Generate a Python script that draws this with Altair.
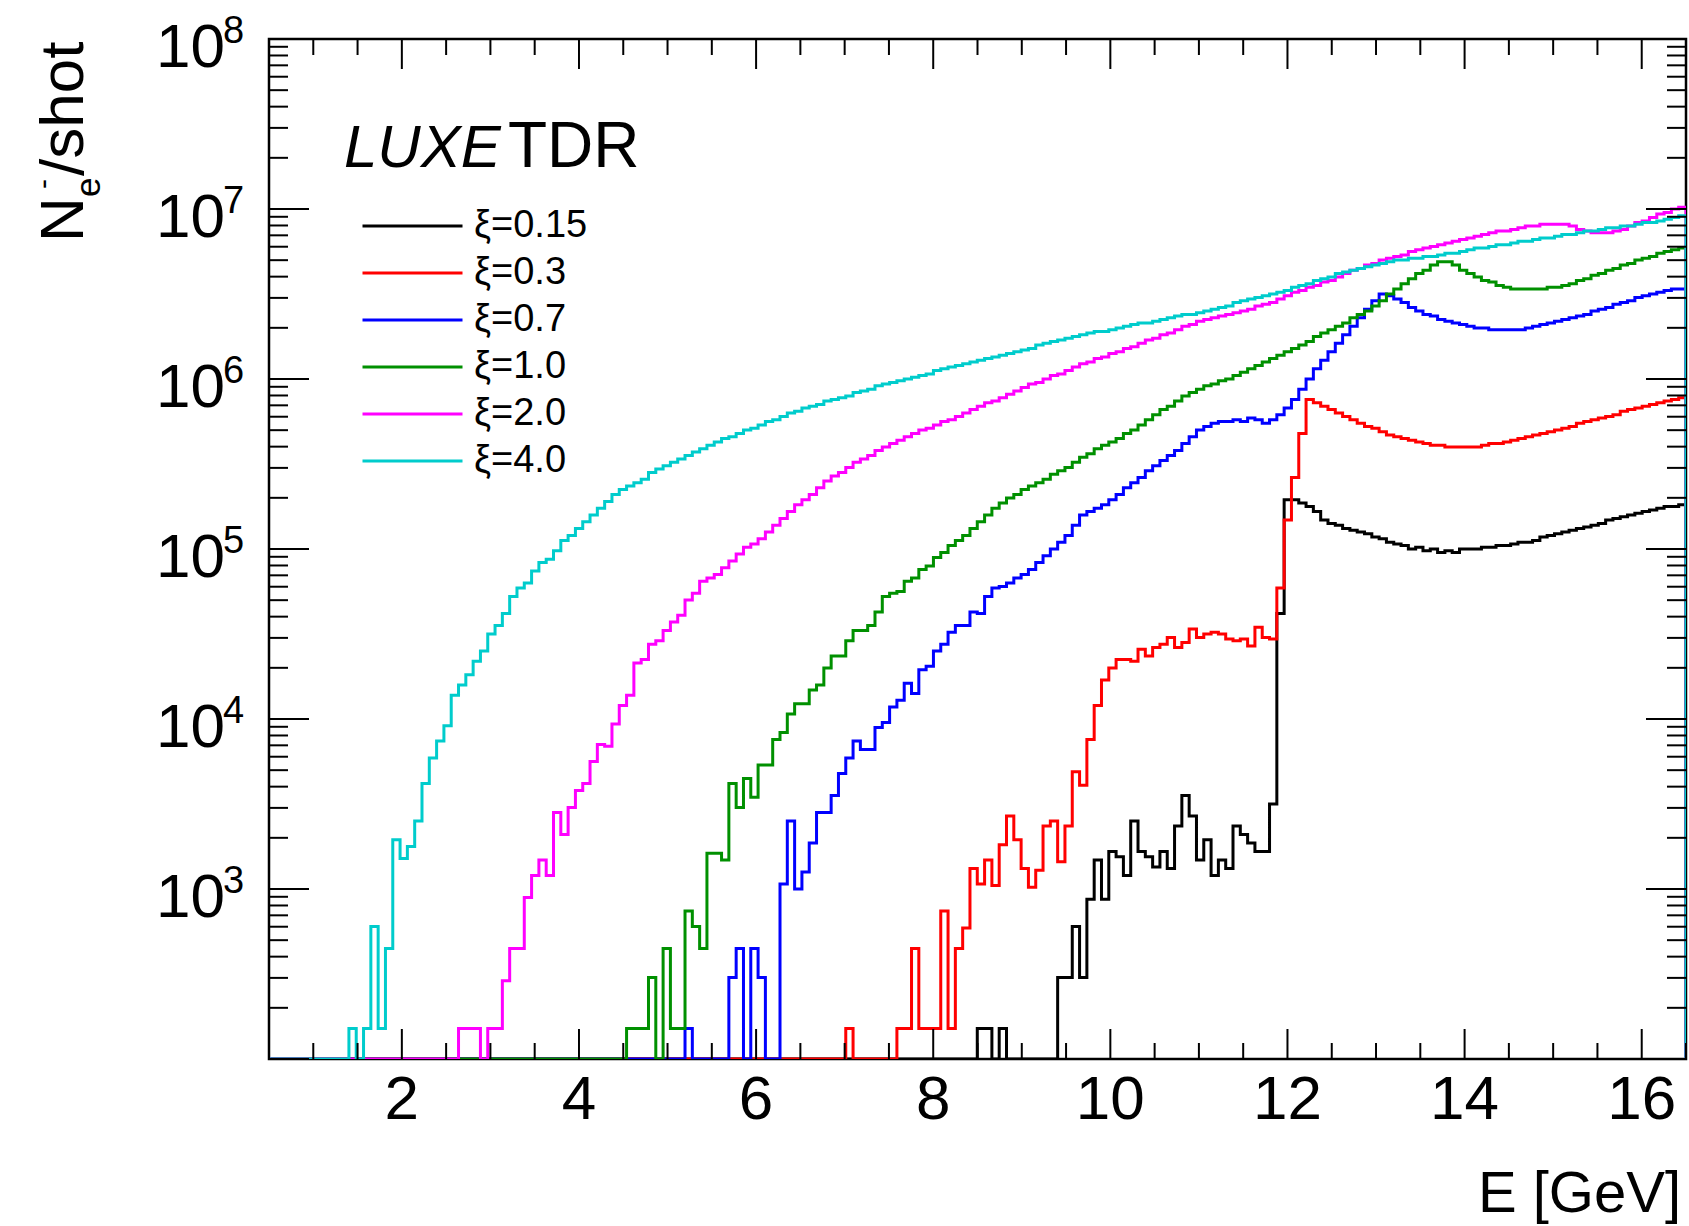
import altair as alt
import pandas as pd

# ---------------- data (log10 of N per bin; 0 = empty bin) ----------------
BIN_WIDTH = 0.0825          # GeV, 200 bins from 0 to 16.5 GeV
X_MIN, X_MAX = 0.5, 16.5
Y_MIN, Y_MAX = 1e2, 1e8

series_names = ["ξ=0.15", "ξ=0.3", "ξ=0.7", "ξ=1.0", "ξ=2.0", "ξ=4.0"]
series_colors = ["#000000", "#ff0000", "#0000ff", "#009000", "#ff00ff", "#00cccc"]
first_bin = [103, 85, 63, 55, 32, 17]

log_xi015 = [
    2.18, 2.18, 0, 2.18,
    0, 0, 0, 0, 0, 0, 0,
    2.48, 2.48, 2.78, 2.48, 2.94, 3.17,
    2.94, 3.22, 3.19, 3.08, 3.40, 3.22, 3.19, 3.13, 3.22, 3.12,
    3.37, 3.55, 3.43, 3.17, 3.29, 3.08, 3.17, 3.12, 3.37, 3.32,
    3.27, 3.22, 3.22, 3.50,
    4.62, 5.29, 5.29, 5.27, 5.25, 5.22,
    5.17, 5.15, 5.14, 5.12, 5.11, 5.10, 5.09, 5.07, 5.06, 5.04,
    5.03, 5.02, 5.00, 5.01, 4.99, 5.00, 4.98, 4.99, 4.98, 5.00,
    5.00, 5.00, 5.01, 5.01, 5.02, 5.02, 5.03, 5.04, 5.04, 5.05,
    5.07, 5.08, 5.09, 5.10, 5.11, 5.12, 5.13, 5.14, 5.15, 5.17,
    5.18, 5.19, 5.20, 5.21, 5.22, 5.23, 5.24, 5.25, 5.25, 5.26,
]
log_xi03 = [
    2.18, 0, 0, 0, 0, 0, 0, 2.18, 2.18, 2.65, 2.18, 2.18, 2.18, 2.87, 2.18,
    2.65, 2.77, 3.12, 3.03, 3.17, 3.02, 3.26, 3.43, 3.29, 3.12,
    3.01, 3.11, 3.37, 3.40, 3.16, 3.37, 3.69, 3.61, 3.88, 4.08,
    4.23, 4.30, 4.35, 4.35, 4.34, 4.41, 4.37, 4.42, 4.44, 4.48,
    4.42, 4.45, 4.53, 4.48, 4.50, 4.51, 4.50, 4.47, 4.46, 4.47,
    4.43, 4.54, 4.48, 4.47, 4.77, 5.17, 5.42, 5.68, 5.88, 5.86,
    5.84, 5.82, 5.80, 5.78, 5.76, 5.74, 5.72, 5.71, 5.69, 5.67,
    5.66, 5.65, 5.64, 5.63, 5.62, 5.61, 5.61, 5.60, 5.60, 5.60,
    5.60, 5.60, 5.61, 5.62, 5.62, 5.63, 5.64, 5.65, 5.66, 5.67,
    5.68, 5.69, 5.70, 5.71, 5.72, 5.74, 5.75, 5.76, 5.77, 5.78,
    5.79, 5.81, 5.82, 5.83, 5.84, 5.85, 5.86, 5.87, 5.88, 5.89,
]
log_xi07 = [
    2.18, 0, 0, 0, 0, 0, 2.48, 2.65, 0, 2.65, 2.48, 0, 0,
    3.03, 3.40, 3.00, 3.10, 3.27, 3.45, 3.45, 3.55, 3.68, 3.77,
    3.87, 3.82, 3.82, 3.95, 3.98, 4.07, 4.11, 4.21, 4.15, 4.29,
    4.31, 4.40, 4.44, 4.51, 4.55, 4.55, 4.63, 4.62, 4.72, 4.77,
    4.78, 4.80, 4.83, 4.85, 4.88, 4.92, 4.96, 5.00, 5.04, 5.08,
    5.14, 5.20, 5.22, 5.24, 5.26, 5.29, 5.32, 5.36, 5.39, 5.42,
    5.46, 5.49, 5.52, 5.55, 5.58, 5.62, 5.66, 5.70, 5.72, 5.74,
    5.75, 5.75, 5.76, 5.75, 5.77, 5.76, 5.74, 5.76, 5.79, 5.83,
    5.88, 5.94, 6.00, 6.06, 6.11, 6.16, 6.21, 6.26, 6.31, 6.36,
    6.41, 6.46, 6.50, 6.49, 6.47, 6.45, 6.42, 6.40, 6.38, 6.37,
    6.35, 6.34, 6.33, 6.32, 6.31, 6.30, 6.30, 6.29, 6.29, 6.29,
    6.29, 6.29, 6.30, 6.31, 6.32, 6.33, 6.34, 6.35, 6.36, 6.37,
    6.38, 6.40, 6.41, 6.42, 6.44, 6.45, 6.46, 6.48, 6.49, 6.50,
    6.51, 6.52, 6.53, 6.53,
]
log_xi10 = [
    2.18, 2.18, 2.18, 2.48, 0, 2.65, 2.18, 2.18, 2.87, 2.78,
    2.65, 3.21, 3.21, 3.17, 3.62, 3.48, 3.65, 3.54, 3.73, 3.73,
    3.88, 3.92, 4.03, 4.09, 4.09, 4.17, 4.20, 4.30, 4.37, 4.37,
    4.46, 4.52, 4.52, 4.55, 4.63, 4.72, 4.74, 4.75, 4.81, 4.83,
    4.88, 4.90, 4.95, 4.98, 5.02, 5.05, 5.08, 5.12, 5.16, 5.20,
    5.24, 5.27, 5.30, 5.32, 5.35, 5.37, 5.39, 5.41, 5.44, 5.46,
    5.48, 5.51, 5.54, 5.56, 5.59, 5.61, 5.63, 5.65, 5.68, 5.70,
    5.73, 5.76, 5.79, 5.82, 5.84, 5.87, 5.90, 5.92, 5.94, 5.96,
    5.97, 5.99, 6.00, 6.02, 6.04, 6.06, 6.08, 6.10, 6.12, 6.14,
    6.16, 6.18, 6.20, 6.22, 6.25, 6.27, 6.29, 6.31, 6.33, 6.36,
    6.38, 6.40, 6.43, 6.46, 6.50, 6.53, 6.56, 6.59, 6.62, 6.64,
    6.67, 6.69, 6.69, 6.67, 6.64, 6.62, 6.60, 6.58, 6.57, 6.55,
    6.54, 6.53, 6.53, 6.53, 6.53, 6.53, 6.54, 6.54, 6.55, 6.56,
    6.58, 6.59, 6.61, 6.62, 6.64, 6.65, 6.67, 6.68, 6.70, 6.71,
    6.72, 6.74, 6.75, 6.76, 6.77,
]
log_xi20 = [
    2.18, 2.18, 2.18, 0, 2.18, 2.18, 2.46, 2.65, 2.65, 2.95,
    3.08, 3.17, 3.08, 3.45, 3.32, 3.48, 3.58, 3.62, 3.75, 3.85,
    3.84, 3.97, 4.08, 4.14, 4.33, 4.35, 4.44, 4.46, 4.52, 4.57,
    4.61, 4.70, 4.74, 4.81, 4.83, 4.85, 4.89, 4.93, 4.97, 5.01,
    5.03, 5.06, 5.10, 5.14, 5.18, 5.22, 5.26, 5.29, 5.32, 5.36,
    5.40, 5.43, 5.45, 5.48, 5.51, 5.53, 5.55, 5.58, 5.60, 5.62,
    5.64, 5.66, 5.68, 5.70, 5.71, 5.73, 5.75, 5.76, 5.78, 5.80,
    5.82, 5.84, 5.86, 5.87, 5.89, 5.91, 5.93, 5.95, 5.97, 5.98,
    6.00, 6.02, 6.03, 6.05, 6.07, 6.09, 6.10, 6.12, 6.13, 6.15,
    6.16, 6.18, 6.19, 6.21, 6.23, 6.24, 6.26, 6.27, 6.29, 6.31,
    6.32, 6.34, 6.35, 6.36, 6.37, 6.38, 6.39, 6.40, 6.41, 6.43,
    6.44, 6.45, 6.47, 6.49, 6.51, 6.52, 6.54, 6.55, 6.57, 6.58,
    6.60, 6.62, 6.64, 6.65, 6.67, 6.68, 6.70, 6.71, 6.72, 6.73,
    6.75, 6.76, 6.77, 6.78, 6.79, 6.80, 6.81, 6.82, 6.83, 6.84,
    6.85, 6.86, 6.87, 6.87, 6.88, 6.89, 6.90, 6.90, 6.91, 6.91,
    6.91, 6.91, 6.90, 6.88, 6.87, 6.86, 6.86, 6.86, 6.87, 6.88,
    6.90, 6.92, 6.93, 6.95, 6.97, 6.98, 7.00, 7.01,
]
log_xi40 = [
    2.18, 0, 2.18, 2.78, 2.18, 2.65, 3.29, 3.18, 3.25, 3.40,
    3.62, 3.77, 3.87, 3.96, 4.14, 4.20, 4.26, 4.34, 4.40, 4.50,
    4.55, 4.62, 4.72, 4.77, 4.80, 4.87, 4.92, 4.94, 4.99, 5.05,
    5.08, 5.12, 5.16, 5.20, 5.24, 5.28, 5.32, 5.35, 5.37, 5.39,
    5.41, 5.45, 5.47, 5.49, 5.51, 5.53, 5.55, 5.57, 5.59, 5.61,
    5.63, 5.65, 5.66, 5.68, 5.70, 5.71, 5.73, 5.75, 5.76, 5.78,
    5.80, 5.81, 5.83, 5.84, 5.85, 5.87, 5.88, 5.89, 5.90, 5.92,
    5.93, 5.94, 5.96, 5.97, 5.98, 5.99, 6.00, 6.01, 6.02, 6.03,
    6.05, 6.06, 6.07, 6.08, 6.09, 6.10, 6.11, 6.12, 6.13, 6.14,
    6.15, 6.16, 6.17, 6.18, 6.20, 6.21, 6.22, 6.23, 6.24, 6.25,
    6.26, 6.27, 6.28, 6.28, 6.29, 6.30, 6.31, 6.32, 6.33, 6.33,
    6.34, 6.35, 6.36, 6.37, 6.38, 6.38, 6.39, 6.40, 6.41, 6.42,
    6.43, 6.45, 6.46, 6.47, 6.48, 6.49, 6.50, 6.51, 6.52, 6.54,
    6.55, 6.56, 6.58, 6.59, 6.60, 6.62, 6.63, 6.64, 6.65, 6.66,
    6.67, 6.68, 6.69, 6.70, 6.70, 6.71, 6.71, 6.72, 6.72, 6.73,
    6.74, 6.74, 6.75, 6.76, 6.77, 6.77, 6.78, 6.79, 6.79, 6.80,
    6.81, 6.81, 6.82, 6.83, 6.83, 6.84, 6.85, 6.85, 6.86, 6.87,
    6.87, 6.88, 6.89, 6.89, 6.90, 6.90, 6.91, 6.92, 6.92, 6.93,
    6.94, 6.95, 6.96,
]
all_logs = [log_xi015, log_xi03, log_xi07, log_xi10, log_xi20, log_xi40]

# axis tick positions and labels
x_major = [2, 4, 6, 8, 10, 12, 14, 16]
x_major_labels = ["2", "4", "6", "8", "10", "12", "14", "16"]
x_minor = [v / 2 for v in range(1, 34) if v % 4 != 0]
y_decades = [1e2, 1e3, 1e4, 1e5, 1e6, 1e7, 1e8]
y_label_vals = [1e3, 1e4, 1e5, 1e6, 1e7, 1e8]
y_label_exps = ["3", "4", "5", "6", "7", "8"]
y_minor = [m * 10 ** d for d in range(2, 8) for m in range(2, 10)]

# ---------------- build the histogram table ----------------
rows = []
idx = 0
n_bins = int(round(X_MAX / BIN_WIDTH))
for name, start, logs in zip(series_names, first_bin, all_logs):
    vals = [0.0] * start + list(logs)
    vals = (vals + [0.0] * n_bins)[:n_bins]
    for k, L in enumerate(vals):
        if (k + 1) * BIN_WIDTH <= X_MIN:
            continue
        rows.append({"series": name, "E": k * BIN_WIDTH,
                     "N": 10 ** L if L > 0 else Y_MIN, "idx": idx})
        idx += 1
    rows.append({"series": name, "E": X_MAX, "N": Y_MIN, "idx": idx})
    idx += 1
df = pd.DataFrame(rows)

# ---------------- chart ----------------
W, H = 1417, 1020
FONT = "Liberation Sans"
MAJ_Y, MIN_Y = 40, 19      # tick lengths of y-axis ticks (horizontal)
MAJ_X, MIN_X = 30, 16      # tick lengths of x-axis ticks (vertical)

xscale = alt.Scale(domain=[X_MIN, X_MAX], nice=False, zero=False)
yscale = alt.Scale(type="log", domain=[Y_MIN, Y_MAX], nice=False)

hist = alt.Chart(df).mark_line(interpolate="step-after", clip=True, strokeWidth=3).encode(
    x=alt.X("E:Q", scale=xscale, axis=None),
    y=alt.Y("N:Q", scale=yscale, axis=None),
    color=alt.Color(
        "series:N",
        scale=alt.Scale(domain=series_names, range=series_colors),
        legend=alt.Legend(
            orient="none", legendX=92, legendY=167, title=None,
            symbolType="stroke", symbolSize=10000, symbolStrokeWidth=3,
            labelFont=FONT, labelFontSize=38, labelColor="black",
            labelOffset=10, rowPadding=7, clipHeight=40, padding=0,
            labelLimit=400,
        ),
    ),
    order=alt.Order("idx:Q"),
)

ydec = pd.DataFrame({"v": y_decades})
ymin = pd.DataFrame({"v": y_minor})
xmaj = pd.DataFrame({"E": x_major, "lab": x_major_labels})
xmin = pd.DataFrame({"E": x_minor})


def yticks(data, length, left=True):
    x0 = 0 if left else W
    x1 = length if left else W - length
    return alt.Chart(data).mark_rule(color="black", strokeWidth=2).encode(
        y=alt.Y("v:Q", scale=yscale, axis=None), x=alt.value(x0), x2=alt.value(x1))


def xticks(data, length, bottom=True):
    y0 = H if bottom else 0
    y1 = H - length if bottom else length
    return alt.Chart(data).mark_rule(color="black", strokeWidth=2).encode(
        x=alt.X("E:Q", scale=xscale, axis=None), y=alt.value(y0), y2=alt.value(y1))


ticks = [
    yticks(ydec, MAJ_Y, True), yticks(ydec, MAJ_Y, False),
    yticks(ymin, MIN_Y, True), yticks(ymin, MIN_Y, False),
    xticks(xmaj, MAJ_X, True), xticks(xmaj, MAJ_X, False),
    xticks(xmin, MIN_X, True), xticks(xmin, MIN_X, False),
]

ylab = pd.DataFrame({"v": y_label_vals, "base": ["10"] * 6, "exp": y_label_exps})
ylab_base = alt.Chart(ylab).mark_text(
    align="right", baseline="alphabetic", font=FONT, fontSize=62, dy=28, color="black"
).encode(y=alt.Y("v:Q", scale=yscale, axis=None), x=alt.value(-44), text="base:N")
ylab_exp = alt.Chart(ylab).mark_text(
    align="left", baseline="alphabetic", font=FONT, fontSize=38, dy=4, color="black"
).encode(y=alt.Y("v:Q", scale=yscale, axis=None), x=alt.value(-46), text="exp:N")

xlab = alt.Chart(xmaj).mark_text(
    align="center", baseline="alphabetic", font=FONT, fontSize=62, color="black"
).encode(x=alt.X("E:Q", scale=xscale, axis=None), y=alt.value(H + 60), text="lab:N")


def label(text, x, y, size, **kw):
    return alt.Chart(pd.DataFrame({"t": [text]})).mark_text(
        font=FONT, fontSize=size, color="black", baseline="alphabetic", **kw
    ).encode(x=alt.value(x), y=alt.value(y), text="t:N")


x_title = label("E [GeV]", W - 5, H + 153, 58, align="right")
y_title = [
    label("N", -186, 203, 62, align="left", angle=270),
    label("e", -169, 158, 35, align="left", angle=270),
    label("-", -216, 150, 30, align="left", angle=270),
    label("/shot", -186, 137, 62, align="left", angle=270),
]
luxe = label("LUXE", 75, 128, 60, align="left", fontStyle="italic")
tdr = label("TDR", 239, 128, 64, align="left")

chart = alt.layer(
    hist, *ticks, ylab_base, ylab_exp, xlab, x_title, *y_title, luxe, tdr
).properties(
    width=W, height=H,
    autosize=alt.AutoSizeParams(type="none"),
    padding={"left": 269, "top": 39, "right": 3, "bottom": 167},
).configure_view(stroke="black", strokeWidth=2.5)

chart.save("out.html", embed_options={"renderer": "svg", "actions": False})
